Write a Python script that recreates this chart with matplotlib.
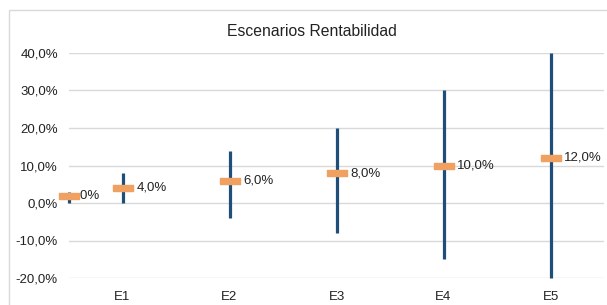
import matplotlib
matplotlib.use("Agg")
import matplotlib.pyplot as plt
from matplotlib.patches import Rectangle
from matplotlib.ticker import FuncFormatter
from matplotlib.transforms import Bbox

plt.rcParams['font.family'] = ['Liberation Sans', 'DejaVu Sans']

# data
categories = ["E1", "E2", "E3", "E4", "E5"]
x_pos = [0.5, 1, 2, 3, 4, 5]          # first scenario sits on the left edge
expected = [2.0, 4.0, 6.0, 8.0, 10.0, 12.0]
low = [0.0, 0.0, -4.0, -8.0, -15.0, -20.0]
high = [3.0, 8.0, 14.0, 20.0, 30.0, 40.0]

bar_color = "#1f4e79"
mark_color = "#f0a060"
grid_color = "#d9d9d9"

W, H = 607, 305
fig = plt.figure(figsize=(W / 100, H / 100), dpi=100)
ax = fig.add_axes([69 / W, 1 - 278 / H, (604 - 69) / W, (278 - 53) / H])

# chart area border (only top/left visible in the crop)
fig.patches.append(Rectangle((9 / W, -0.1), 1.2, 1 - 10 / H + 0.1,
                             transform=fig.transFigure, fill=False,
                             edgecolor="#d9d9d9", linewidth=1))

ax.set_xlim(0.5, 5.5)
ax.set_ylim(-20, 40)
ax.set_yticks(range(-20, 41, 10))
ax.yaxis.set_major_formatter(FuncFormatter(lambda v, _: f"{v:.1f}%".replace(".", ",")))
ax.set_xticks(range(1, len(categories) + 1))
ax.set_xticklabels(categories)
ax.tick_params(length=0, labelsize=9.5, colors="#222222")
ax.tick_params(axis="y", pad=8)
ax.tick_params(axis="x", pad=9)
ax.grid(axis="y", color=grid_color, linewidth=1)
ax.set_axisbelow(True)
for s in ax.spines.values():
    s.set_visible(False)

ax.vlines(x_pos, low, high, color=bar_color, linewidth=2.3, zorder=3, clip_on=False)

box = [(-1, -0.32), (1, -0.32), (1, 0.32), (-1, 0.32), (-1, -0.32)]
ax.plot(x_pos, expected, linestyle="none", marker=box, markersize=13.7,
        markerfacecolor=mark_color, markeredgecolor=mark_color,
        zorder=5, clip_on=False)

for i, (x, y) in enumerate(zip(x_pos, expected)):
    dx = 0.3 if i == 0 else 10
    t = ax.annotate(f"{y:.1f}%".replace(".", ","), (x, y), xytext=(dx, 0),
                    textcoords="offset points", va="center", ha="left",
                    fontsize=9.5, color="#222222", zorder=4, annotation_clip=False)
    if i == 0:
        # the first label is hidden under its marker, only the tail shows
        xr = ax.transData.transform((x, y))[0] + 9.5
        t.set_clip_box(Bbox([[xr, 0], [W, H]]))
        t.set_clip_on(True)

fig.text(312 / W, 1 - 32 / H, "Escenarios Rentabilidad", ha="center", va="center",
         fontsize=11.3, color="#222222")

fig.savefig("out.png", dpi=100)
